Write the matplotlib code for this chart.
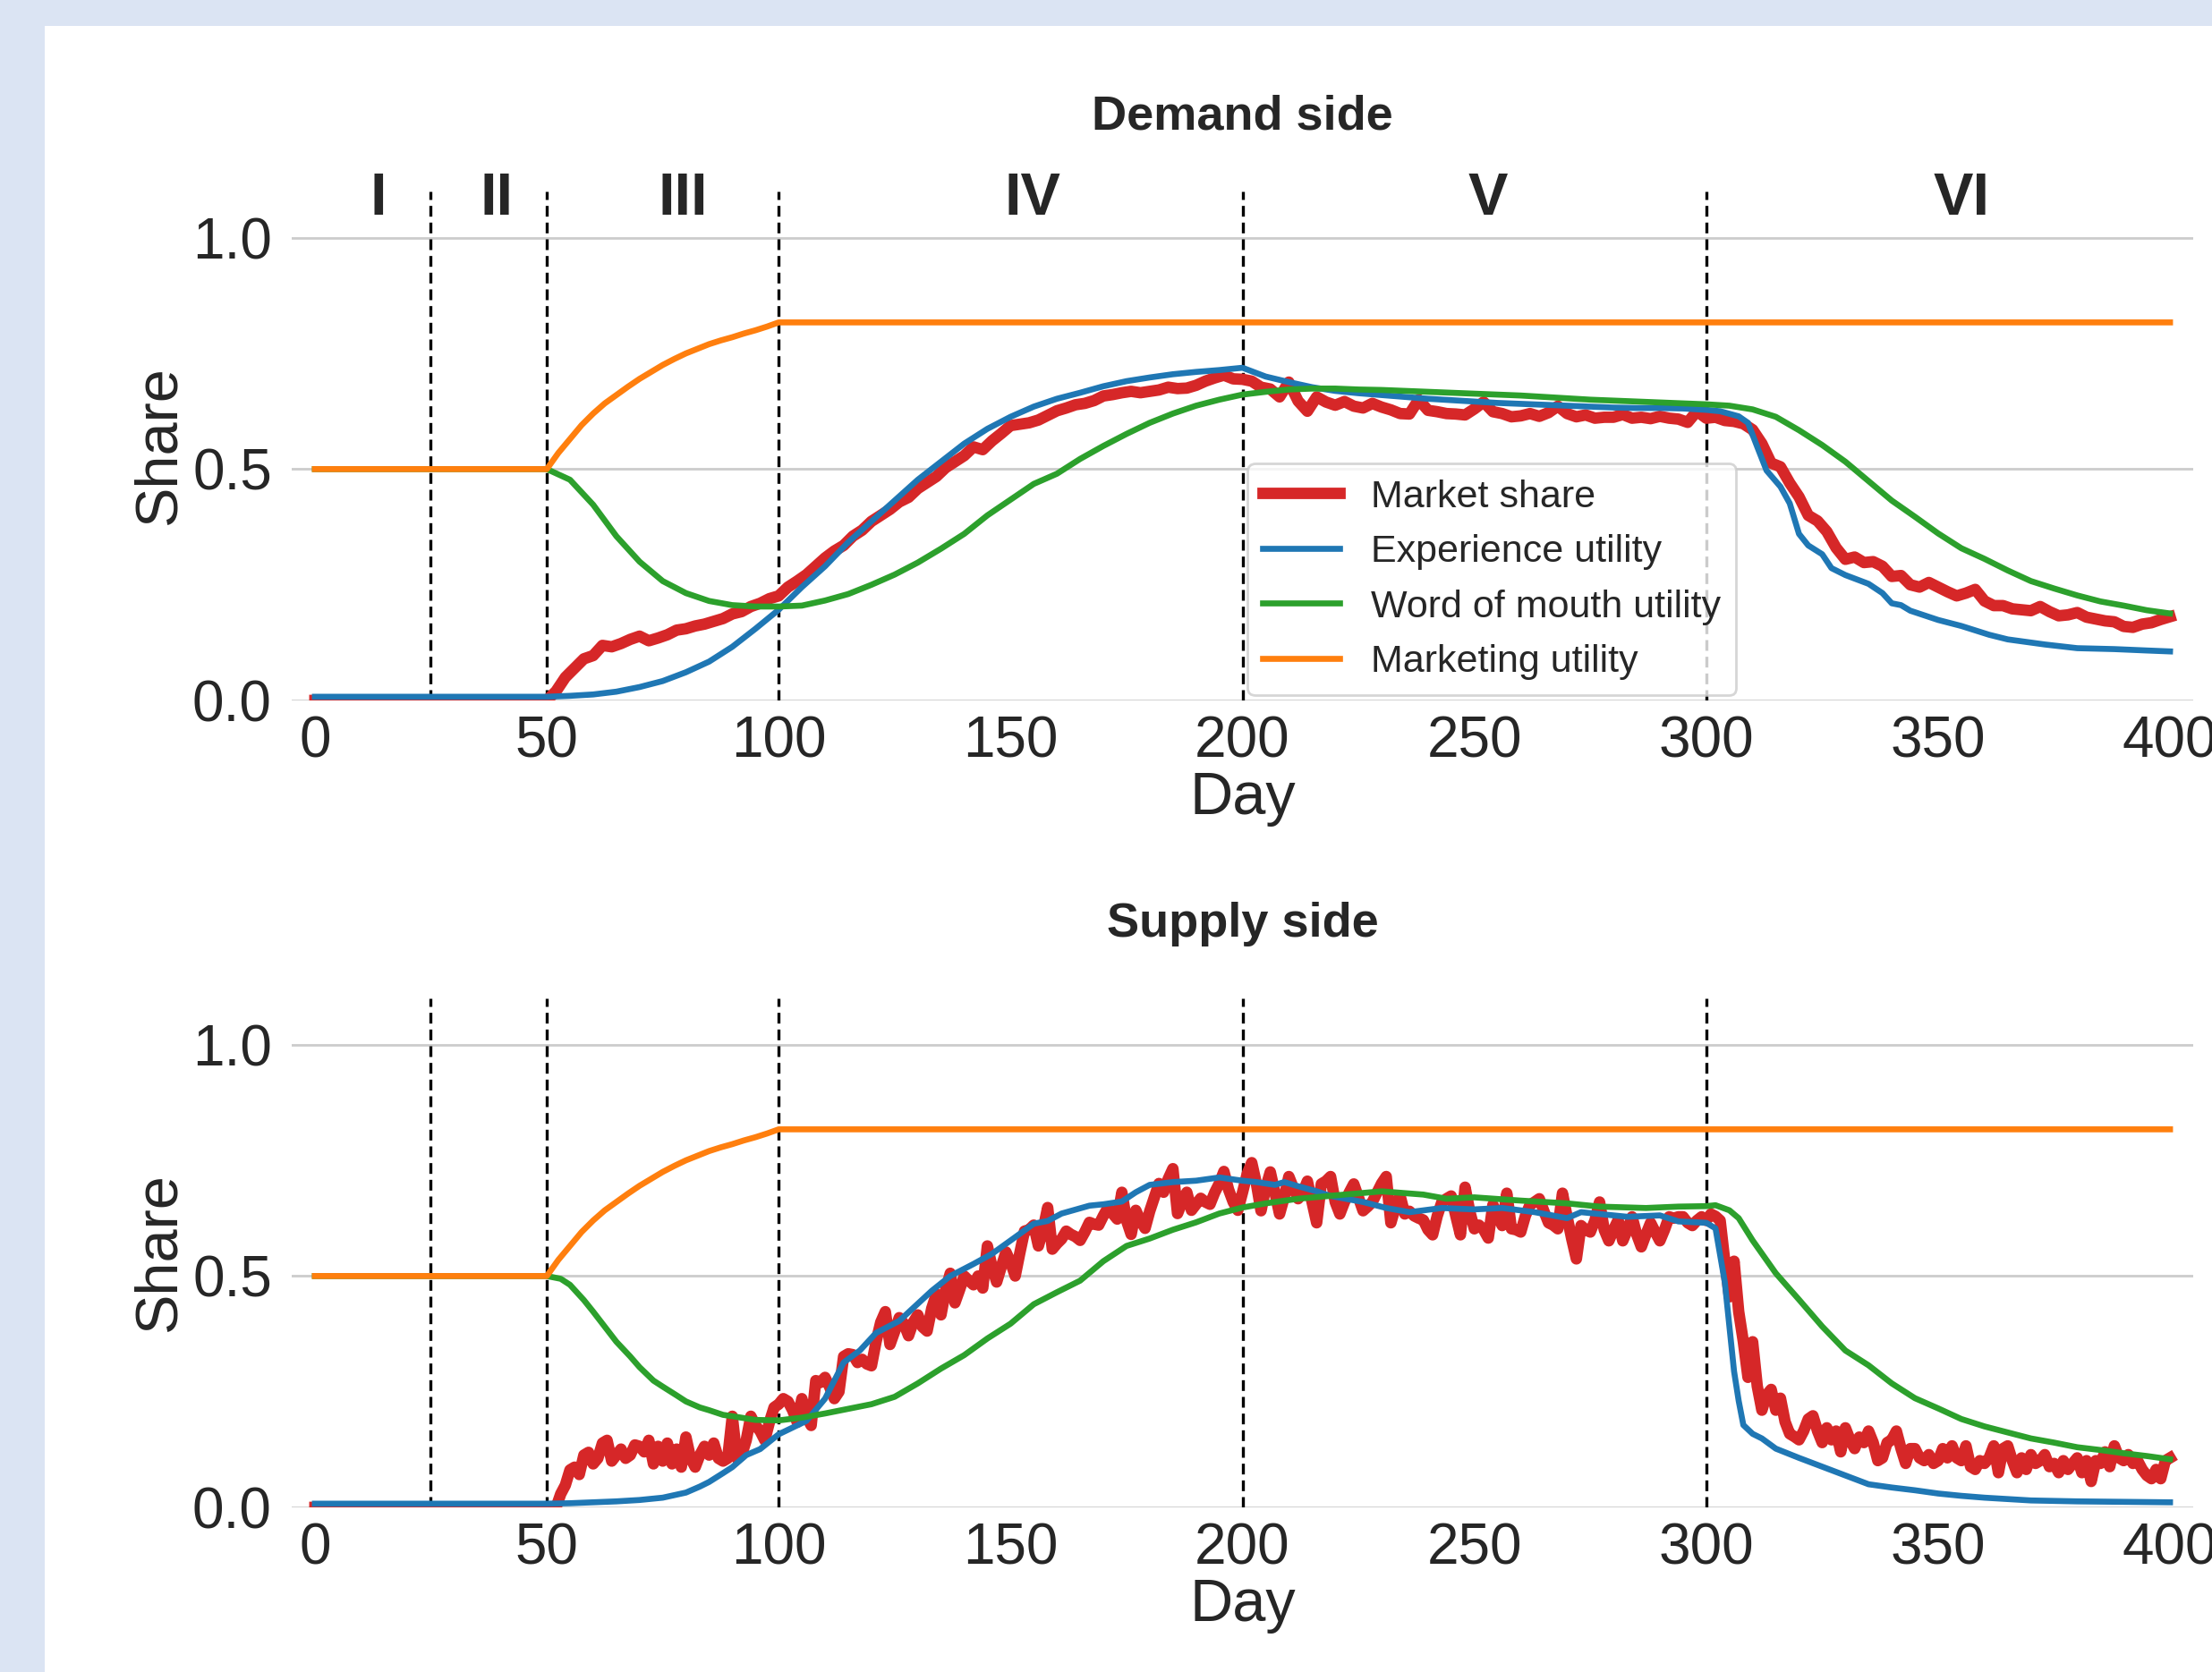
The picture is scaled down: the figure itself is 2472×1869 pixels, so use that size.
import numpy as np
import matplotlib
matplotlib.use("Agg")
import matplotlib.pyplot as plt
from matplotlib.patches import Rectangle

plt.rcParams['font.family'] = ['Liberation Sans', 'DejaVu Sans']
plt.rcParams['text.color'] = '#262626'

# ---------------- data ----------------
phase_bounds = [25, 50, 100, 200, 300]
phase_labels = ['I', 'II', 'III', 'IV', 'V', 'VI']
phase_centers = [13.7, 39.2, 79.4, 154.8, 253, 355]
y_ticks = [0.0, 0.5, 1.0]
x_ticks = [0, 50, 100, 150, 200, 250, 300, 350, 400]

marketing_days = [0, 50, 52.5, 55, 57.5, 60, 62.5, 65, 67.5, 70, 72.5, 75, 77.5, 80,
                  82.5, 85, 87.5, 90, 92.5, 95, 97.5, 100, 400]
marketing_util = [0.5, 0.5, 0.535, 0.565, 0.595, 0.62, 0.642, 0.66, 0.678, 0.695,
                  0.71, 0.725, 0.738, 0.75, 0.76, 0.77, 0.778, 0.785, 0.793, 0.80,
                  0.808, 0.817, 0.817]

# Demand side
demand_share_days = [0] + list(range(50, 401, 2))
demand_share = [0.0,
    0.0, 0.02, 0.05, 0.07, 0.09, 0.097, 0.119, 0.116, 0.123, 0.132,
    0.139, 0.129, 0.135, 0.142, 0.152, 0.155, 0.161, 0.165, 0.171, 0.177,
    0.187, 0.192, 0.203, 0.21, 0.22, 0.226, 0.245, 0.258, 0.272, 0.29,
    0.308, 0.323, 0.335, 0.355, 0.368, 0.387, 0.40, 0.413, 0.429, 0.439,
    0.458, 0.471, 0.484, 0.503, 0.516, 0.529, 0.548, 0.542, 0.561, 0.577,
    0.594, 0.597, 0.60, 0.606, 0.616, 0.626, 0.632, 0.639, 0.642, 0.648,
    0.658, 0.661, 0.665, 0.668, 0.665, 0.668, 0.671, 0.677, 0.674, 0.675,
    0.681, 0.69, 0.697, 0.703, 0.695, 0.694, 0.69, 0.677, 0.673, 0.656,
    0.688, 0.647, 0.625, 0.656, 0.645, 0.638, 0.646, 0.636, 0.632, 0.642,
    0.634, 0.628, 0.62, 0.619, 0.65, 0.627, 0.624, 0.62, 0.619, 0.617,
    0.63, 0.645, 0.624, 0.62, 0.613, 0.615, 0.62, 0.614, 0.622, 0.636,
    0.62, 0.613, 0.617, 0.61, 0.612, 0.612, 0.618, 0.61, 0.612, 0.609,
    0.614, 0.61, 0.608, 0.601, 0.625, 0.61, 0.612, 0.605, 0.603, 0.598,
    0.585, 0.555, 0.513, 0.505, 0.47, 0.44, 0.40, 0.388, 0.365, 0.33,
    0.305, 0.31, 0.298, 0.30, 0.29, 0.268, 0.27, 0.25, 0.245, 0.255,
    0.245, 0.235, 0.226, 0.232, 0.24, 0.215, 0.205, 0.205, 0.198, 0.196,
    0.194, 0.203, 0.192, 0.183, 0.185, 0.19, 0.18, 0.176, 0.172, 0.17,
    0.16, 0.158, 0.165, 0.168, 0.175, 0.181]

demand_exp_days = [0, 50, 55, 60, 65, 70, 75, 80, 85, 90, 95, 100, 105, 110, 115, 120,
    125, 130, 135, 140, 145, 150, 155, 160, 165, 170, 175, 180, 185, 190, 195, 200,
    205, 210, 215, 220, 225, 230, 235, 240, 245, 250, 255, 260, 265, 270, 275, 280,
    285, 290, 295, 300, 303, 307, 309, 311, 313, 316, 318, 320, 322, 325, 327, 330,
    335, 338, 340, 342, 344, 350, 355, 361, 365, 373, 380, 388, 395, 400]
demand_exp = [0.008, 0.008, 0.01, 0.013, 0.019, 0.029, 0.042, 0.061, 0.084, 0.116,
    0.155, 0.196, 0.245, 0.29, 0.342, 0.387, 0.432, 0.477, 0.516, 0.555, 0.587, 0.613,
    0.635, 0.652, 0.665, 0.679, 0.69, 0.698, 0.705, 0.71, 0.714, 0.719, 0.70, 0.688,
    0.677, 0.669, 0.664, 0.66, 0.656, 0.652, 0.649, 0.646, 0.643, 0.641, 0.639, 0.637,
    0.635, 0.633, 0.632, 0.632, 0.631, 0.628, 0.625, 0.614, 0.60, 0.548, 0.497, 0.462,
    0.426, 0.36, 0.335, 0.316, 0.286, 0.271, 0.252, 0.232, 0.21, 0.206, 0.194, 0.174,
    0.161, 0.142, 0.132, 0.121, 0.113, 0.111, 0.108, 0.106]

demand_wom_days = [0] + list(range(50, 401, 5))
demand_wom = [0.5,
    0.5, 0.477, 0.423, 0.355, 0.30, 0.258, 0.232, 0.215, 0.206, 0.203,
    0.203, 0.205, 0.216, 0.23, 0.25, 0.272, 0.298, 0.328, 0.36, 0.40,
    0.434, 0.468, 0.49, 0.522, 0.55, 0.576, 0.60, 0.62, 0.637, 0.65,
    0.661, 0.667, 0.672, 0.674, 0.674, 0.672, 0.671, 0.669, 0.667, 0.665,
    0.663, 0.661, 0.659, 0.656, 0.653, 0.65, 0.648, 0.646, 0.644, 0.642,
    0.64, 0.637, 0.629, 0.613, 0.584, 0.552, 0.516, 0.474, 0.432, 0.397,
    0.361, 0.329, 0.306, 0.281, 0.258, 0.242, 0.227, 0.214, 0.205, 0.195,
    0.188]

# Supply side
supply_share_days = [0] + list(range(50, 401))
supply_share = [0.0,
    0.0, 0.0, 0.0, 0.029, 0.048, 0.081, 0.087, 0.071, 0.113, 0.119,
    0.094, 0.106, 0.139, 0.145, 0.10, 0.113, 0.126, 0.106, 0.113, 0.135,
    0.132, 0.12, 0.145, 0.094, 0.132, 0.10, 0.139, 0.094, 0.126, 0.087,
    0.152, 0.106, 0.087, 0.113, 0.132, 0.113, 0.139, 0.106, 0.10, 0.106,
    0.197, 0.106, 0.113, 0.145, 0.197, 0.177, 0.165, 0.145, 0.184, 0.216,
    0.223, 0.235, 0.229, 0.21, 0.184, 0.235, 0.197, 0.177, 0.274, 0.27,
    0.281, 0.26, 0.235, 0.25, 0.326, 0.332, 0.33, 0.313, 0.32, 0.31,
    0.306, 0.358, 0.40, 0.423, 0.352, 0.38, 0.41, 0.397, 0.371, 0.40,
    0.416, 0.39, 0.381, 0.43, 0.461, 0.416, 0.47, 0.506, 0.442, 0.47,
    0.50, 0.49, 0.481, 0.50, 0.474, 0.565, 0.52, 0.487, 0.52, 0.552,
    0.53, 0.50, 0.55, 0.597, 0.60, 0.61, 0.565, 0.60, 0.648, 0.558,
    0.57, 0.58, 0.597, 0.59, 0.585, 0.577, 0.595, 0.616, 0.612, 0.61,
    0.63, 0.648, 0.635, 0.623, 0.681, 0.62, 0.59, 0.642, 0.62, 0.603,
    0.64, 0.67, 0.70, 0.681, 0.71, 0.732, 0.635, 0.66, 0.681, 0.642,
    0.655, 0.668, 0.66, 0.655, 0.68, 0.70, 0.726, 0.687, 0.66, 0.642,
    0.68, 0.72, 0.745, 0.70, 0.641, 0.69, 0.725, 0.68, 0.634, 0.67,
    0.715, 0.69, 0.667, 0.68, 0.705, 0.66, 0.615, 0.699, 0.705, 0.715,
    0.66, 0.634, 0.66, 0.68, 0.699, 0.67, 0.641, 0.65, 0.66, 0.68,
    0.70, 0.715, 0.615, 0.65, 0.673, 0.634, 0.64, 0.63, 0.625, 0.621,
    0.60, 0.589, 0.63, 0.66, 0.667, 0.673, 0.63, 0.589, 0.692, 0.64,
    0.602, 0.61, 0.60, 0.582, 0.654, 0.63, 0.609, 0.679, 0.602, 0.60,
    0.595, 0.63, 0.654, 0.66, 0.667, 0.64, 0.615, 0.61, 0.602, 0.679,
    0.628, 0.58, 0.537, 0.609, 0.60, 0.595, 0.62, 0.66, 0.60, 0.576,
    0.60, 0.621, 0.576, 0.60, 0.628, 0.59, 0.563, 0.59, 0.615, 0.595,
    0.576, 0.60, 0.628, 0.625, 0.628, 0.628, 0.615, 0.609, 0.62, 0.628,
    0.62, 0.634, 0.629, 0.62, 0.532, 0.455, 0.532, 0.423, 0.358, 0.281,
    0.358, 0.262, 0.21, 0.243, 0.255, 0.21, 0.236, 0.185, 0.159, 0.153,
    0.146, 0.165, 0.191, 0.198, 0.165, 0.14, 0.172, 0.146, 0.165, 0.12,
    0.172, 0.146, 0.127, 0.152, 0.14, 0.165, 0.14, 0.101, 0.107, 0.14,
    0.146, 0.165, 0.127, 0.095, 0.127, 0.127, 0.107, 0.101, 0.114, 0.095,
    0.101, 0.127, 0.107, 0.133, 0.107, 0.101, 0.133, 0.088, 0.082, 0.101,
    0.095, 0.107, 0.133, 0.075, 0.127, 0.133, 0.101, 0.075, 0.107, 0.082,
    0.114, 0.095, 0.101, 0.114, 0.088, 0.095, 0.075, 0.101, 0.082, 0.095,
    0.107, 0.075, 0.101, 0.056, 0.101, 0.095, 0.12, 0.088, 0.133, 0.107,
    0.101, 0.114, 0.095, 0.101, 0.082, 0.069, 0.062, 0.082, 0.062, 0.101,
    0.107]

supply_exp_days = [0, 50, 55, 60, 65, 70, 75, 80, 83, 85, 88, 90, 93, 96, 100, 106,
    110, 114, 117.5, 121, 126, 133, 137, 142, 146, 151, 155, 158, 161, 167, 170, 174,
    177, 180, 185, 190, 195, 200, 203, 207, 209, 212, 216, 219, 226, 231, 236, 243,
    250, 256, 263, 270, 273, 283, 290, 294, 300, 302, 304, 306, 307, 308, 310, 312,
    315, 320, 325, 330, 335, 340, 345, 350, 355, 360, 370, 380, 390, 400]
supply_exp = [0.008, 0.008, 0.009, 0.011, 0.013, 0.016, 0.021, 0.032, 0.045, 0.055,
    0.074, 0.087, 0.113, 0.126, 0.158, 0.187, 0.235, 0.313, 0.339, 0.377, 0.403, 0.468,
    0.50, 0.526, 0.548, 0.584, 0.613, 0.619, 0.635, 0.652, 0.655, 0.661, 0.681, 0.697,
    0.703, 0.706, 0.713, 0.706, 0.703, 0.697, 0.703, 0.694, 0.683, 0.673, 0.66, 0.647,
    0.638, 0.647, 0.644, 0.647, 0.638, 0.625, 0.638, 0.628, 0.631, 0.618, 0.615, 0.603,
    0.487, 0.294, 0.23, 0.178, 0.159, 0.149, 0.127, 0.107, 0.088, 0.069, 0.05, 0.043,
    0.037, 0.03, 0.025, 0.021, 0.015, 0.013, 0.012, 0.011]

supply_wom_days = [0, 50, 53, 55, 58, 60, 63, 65, 68, 70, 73, 75, 78, 80, 83, 85, 88,
    90, 95, 100, 105, 110, 115, 120, 125, 130, 135, 140, 145, 150, 155, 160, 165, 170,
    175, 180, 185, 190, 195, 200, 205, 212, 222, 230, 239, 244, 250, 260, 270, 277,
    287, 294, 300, 302, 305, 307, 310, 315, 320, 325, 330, 335, 340, 345, 350, 355,
    360, 365, 370, 375, 380, 385, 390, 395, 400]
supply_wom = [0.5, 0.5, 0.494, 0.481, 0.448, 0.423, 0.384, 0.358, 0.326, 0.303, 0.274,
    0.261, 0.242, 0.229, 0.216, 0.21, 0.20, 0.197, 0.189, 0.188, 0.194, 0.203, 0.213,
    0.223, 0.239, 0.268, 0.30, 0.329, 0.365, 0.397, 0.439, 0.465, 0.49, 0.532, 0.565,
    0.581, 0.60, 0.616, 0.635, 0.648, 0.657, 0.667, 0.676, 0.683, 0.676, 0.667, 0.67,
    0.663, 0.657, 0.65, 0.647, 0.65, 0.651, 0.653, 0.642, 0.625, 0.577, 0.506, 0.449,
    0.391, 0.339, 0.307, 0.268, 0.236, 0.214, 0.191, 0.175, 0.162, 0.149, 0.14, 0.13,
    0.124, 0.117, 0.111, 0.104]

panels = [
    ("Demand side", demand_share_days, demand_share, demand_exp_days, demand_exp,
     demand_wom_days, demand_wom),
    ("Supply side", supply_share_days, supply_share, supply_exp_days, supply_exp,
     supply_wom_days, supply_wom),
]

# ---------------- figure ----------------
W, H, DPI = 2472, 1869, 200
fig = plt.figure(figsize=(W / DPI, H / DPI), dpi=DPI, facecolor='#dbe4f3')
fig.patches.append(Rectangle((50 / W, 0), 1 - 50 / W, 1 - 29 / H,
                             transform=fig.transFigure, facecolor='white',
                             edgecolor='none', zorder=-10))

RED, BLUE, GREEN, ORANGE = '#d62728', '#1f77b4', '#2ca02c', '#ff7f0e'
TXT = '#262626'

left, width = 326 / W, (2451 - 326) / W
height = 569 / H
bottoms = [1 - 783 / H, 1 - 1685 / H]

for i, (title, sd, sv, ed, ev, wd, wv) in enumerate(panels):
    ax = fig.add_axes([left, bottoms[i], width, height], zorder=5)
    ax.set_facecolor('none')
    for s in ax.spines.values():
        s.set_visible(False)
    ax.set_axisbelow(True)
    ax.yaxis.grid(True, color='#cccccc', lw=1.0)
    ax.xaxis.grid(False)

    ax.plot(sd, sv, color=RED, lw=4.6, label='Market share', zorder=3,
            solid_joinstyle='round')
    ax.plot(ed, ev, color=BLUE, lw=2.4, label='Experience utility', zorder=3)
    ax.plot(wd, wv, color=GREEN, lw=2.4, label='Word of mouth utility', zorder=3)
    ax.plot(marketing_days, marketing_util, color=ORANGE, lw=2.4,
            label='Marketing utility', zorder=3)

    for b in phase_bounds:
        ax.axvline(b, color='black', lw=1.2, linestyle=(0, (3.6, 2.0)), zorder=2)

    ax.set_xlim(-5, 405)
    ax.set_ylim(0, 1.1)
    ax.set_xticks(x_ticks)
    ax.set_yticks(y_ticks)
    ax.set_yticklabels([f"{t:.1f}" for t in y_ticks])
    ax.tick_params(axis='x', length=0, labelsize=23, colors=TXT, pad=6)
    ax.tick_params(axis='y', length=0, labelsize=23, colors=TXT, pad=8)
    ax.set_xlabel('Day', fontsize=24, color=TXT, labelpad=1)
    ax.set_ylabel('Share', fontsize=24, color=TXT, labelpad=2)
    ax.set_title(title, fontsize=19.5, fontweight='bold', color=TXT, pad=25)

    if i == 0:
        for lab, c in zip(phase_labels, phase_centers):
            ax.text(c, 1.05, lab, ha='center', va='baseline', fontsize=24,
                    fontweight='bold', color=TXT)
        leg = ax.legend(loc='lower left', bbox_to_anchor=(0.5026, 0.01),
                        borderaxespad=0, fontsize=15.5, handlelength=2.0,
                        frameon=True, fancybox=True, framealpha=0.8)
        leg.get_frame().set_edgecolor('#cccccc')
        leg.get_frame().set_linewidth(1.0)
        for t in leg.get_texts():
            t.set_color(TXT)

fig.savefig('out.png', dpi=DPI, facecolor=fig.get_facecolor())
